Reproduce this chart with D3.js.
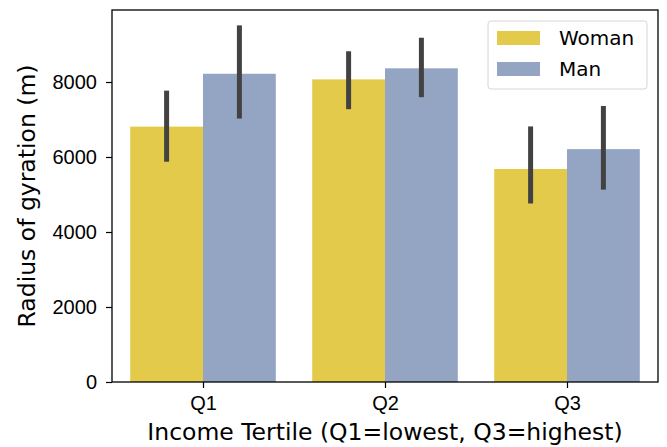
<!DOCTYPE html>
<html lang="en">
<head>
<meta charset="utf-8">
<title>Radius of gyration by income tertile</title>
<script src="https://d3js.org/d3.v7.min.js"></script>
<style>
  body { margin: 0; background: #fff; }
  svg { display: block; font-family: 'DejaVu Sans', sans-serif; }
  .tick text { font-size: 20px; fill: #000; }
  .tick line, .domain { stroke: #000; }
  .lbl { font-size: 23.5px; fill: #000; }
  .legend text { font-size: 20px; fill: #000; }
</style>
</head>
<body>
<div id="chart"></div>
<script>

// data
var tertiles = ["Q1", "Q2", "Q3"];
var genders = ["Woman", "Man"];
var womanMean = [6810, 8070, 5680];
var womanLow = [5875, 7275, 4760];
var womanHigh = [7770, 8820, 6815];
var manMean = [8220, 8365, 6210];
var manLow = [7025, 7595, 5130];
var manHigh = [9510, 9180, 7360];
var yTicks = [0, 2000, 4000, 6000, 8000];

var colours = { Woman: "#e4ca4a", Man: "#94a5c4", err: "#424242" };

var W = 667, H = 447;
var margin = {top: 10, right: 9, bottom: 65, left: 112},
    width = W - margin.left - margin.right,
    height = H - margin.top - margin.bottom;

var rows = [];
tertiles.forEach(function(t, i) {
  rows.push({tertile: t, gender: "Woman", value: womanMean[i], lo: womanLow[i], hi: womanHigh[i]});
  rows.push({tertile: t, gender: "Man", value: manMean[i], lo: manLow[i], hi: manHigh[i]});
});

var svg = d3.select("#chart").append("svg")
    .attr("width", W)
    .attr("height", H);

var g = svg.append("g")
    .attr("transform", "translate(" + margin.left + "," + margin.top + ")");

// x: tertile centres, each pair of bars takes 80% of its slot
var step = width / tertiles.length;
var x0 = d3.scalePoint().domain(tertiles).range([step / 2, width - step / 2]);
var xs = d3.scaleBand().domain(genders).range([-step * 0.4, step * 0.4]);

var y = d3.scaleLinear()
  .domain([0, 9920])
  .range([height, 0]);

// bars
g.selectAll("rect.bar")
  .data(rows)
  .enter()
  .append("rect")
    .attr("class", "bar")
    .attr("x", function(d) { return x0(d.tertile) + xs(d.gender); })
    .attr("y", function(d) { return y(d.value); })
    .attr("width", xs.bandwidth())
    .attr("height", function(d) { return y(0) - y(d.value); })
    .style("fill", function(d) { return colours[d.gender]; });

// error bars
g.selectAll("line.err")
  .data(rows)
  .enter()
  .append("line")
    .attr("class", "err")
    .attr("x1", function(d) { return x0(d.tertile) + xs(d.gender) + xs.bandwidth() / 2; })
    .attr("x2", function(d) { return x0(d.tertile) + xs(d.gender) + xs.bandwidth() / 2; })
    .attr("y1", function(d) { return y(d.lo); })
    .attr("y2", function(d) { return y(d.hi); })
    .attr("stroke", colours.err)
    .attr("stroke-width", 5);

// axes
var xAxis = g.append("g")
  .attr("transform", "translate(0," + height + ")")
  .call(d3.axisBottom(x0).tickSize(6).tickPadding(8).tickSizeOuter(0));
var yAxis = g.append("g")
  .call(d3.axisLeft(y).tickValues(yTicks).tickFormat(d3.format("d"))
    .tickSize(6).tickPadding(9).tickSizeOuter(0));
xAxis.select(".domain").remove();
yAxis.select(".domain").remove();
g.selectAll(".tick line").attr("stroke-width", 1.2);

// frame
g.append("rect")
  .attr("x", 0).attr("y", 0)
  .attr("width", width).attr("height", height)
  .attr("fill", "none")
  .attr("stroke", "#000")
  .attr("stroke-width", 1.3);

// labels
svg.append("text")
  .attr("class", "lbl")
  .attr("x", margin.left + width / 2)
  .attr("y", 440)
  .attr("text-anchor", "middle")
  .text("Income Tertile (Q1=lowest, Q3=highest)");

svg.append("text")
  .attr("class", "lbl")
  .attr("transform", "translate(35," + (margin.top + height / 2) + ") rotate(-90)")
  .attr("text-anchor", "middle")
  .text("Radius of gyration (m)");

// legend
var legend = g.append("g").attr("class", "legend")
  .attr("transform", "translate(" + (width - 170) + ",11)");
legend.append("rect")
  .attr("x", 0).attr("y", 0)
  .attr("width", 159).attr("height", 68)
  .attr("rx", 3)
  .attr("fill", "#fff")
  .attr("fill-opacity", 0.8)
  .attr("stroke", "#d6d6d6");
var items = legend.selectAll("g.item")
  .data(genders)
  .enter()
  .append("g")
    .attr("class", "item")
    .attr("transform", function(d, i) { return "translate(9," + (10 + i * 31) + ")"; });
items.append("rect")
  .attr("width", 43).attr("height", 14)
  .style("fill", function(d) { return colours[d]; });
items.append("text")
  .attr("x", 62)
  .attr("y", 14)
  .text(function(d) { return d; });

</script>
</body>
</html>
